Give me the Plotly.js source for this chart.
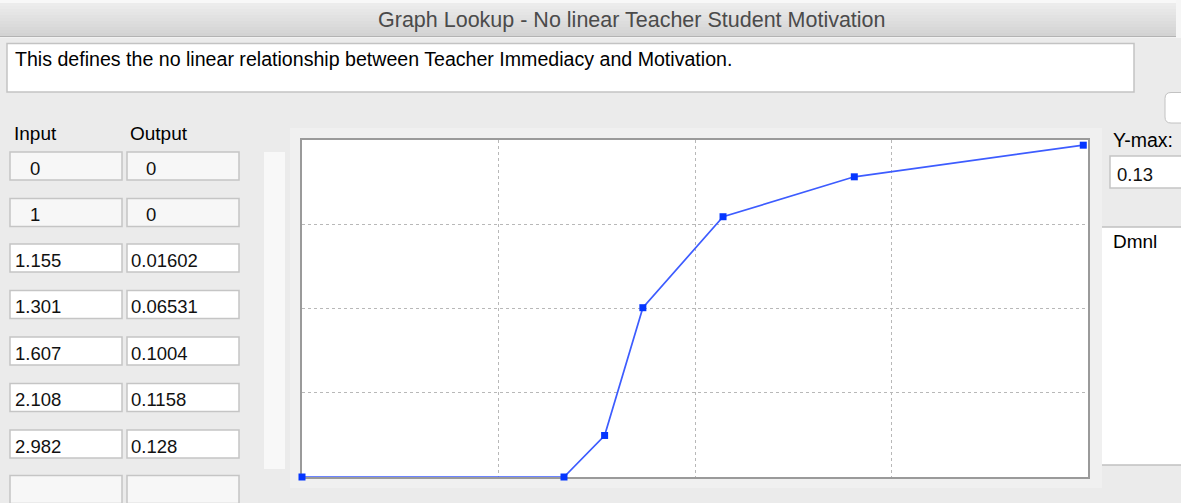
<!DOCTYPE html>
<html>
<head>
<meta charset="utf-8">
<script src="https://cdn.plot.ly/plotly-3.0.1.min.js"></script>
<style>
html,body{margin:0;padding:0;background:#ebebeb;overflow:hidden;}
#chart{width:1181px;height:503px;}
</style>
</head>
<body>
<div id="chart"></div>
<script>
// ---- data ----
const inputs  = [0, 1, 1.155, 1.301, 1.607, 2.108, 2.982];
const outputs = [0, 0, 0.01602, 0.06531, 0.1004, 0.1158, 0.128];
const yMax = 0.13;
const xMax = 3;
const dialogTitle = "Graph Lookup - No linear Teacher Student Motivation";
const description = "This defines the no linear relationship between Teacher Immediacy and Motivation.";
const colHeaders = ["Input", "Output"];
const unitLabel = "Dmnl";
const yMaxLabel = "Y-max:";

// ---- geometry helpers (pixel -> paper) ----
const W = 1181, H = 503;
const L = 302, R = 1088, T = 140, B = 477;
const px = X => (X - L) / (R - L);
const py = Y => (B - Y) / (B - T);
const FONT = "Liberation Sans, Arial, Helvetica, sans-serif";

const shapes = [];
const annotations = [];
function rect(x0, y0, x1, y1, fill, line, lw) {
  shapes.push({type: "rect", xref: "paper", yref: "paper", layer: "below",
    x0: px(x0), x1: px(x1), y0: py(y1), y1: py(y0),
    fillcolor: fill, line: {color: line || fill, width: line ? (lw || 1) : 0}});
}
function hline(x0, x1, y, color, lw) {
  shapes.push({type: "line", xref: "paper", yref: "paper", layer: "below",
    x0: px(x0), x1: px(x1), y0: py(y), y1: py(y), line: {color: color, width: lw || 1}});
}
function text(str, x, y, size, color, anchor) {
  annotations.push({text: str, xref: "paper", yref: "paper", x: px(x), y: py(y),
    xanchor: anchor || "left", yanchor: "middle", showarrow: false,
    font: {family: FONT, size: size, color: color || "#000"}});
}

// top white strip + title bar (stepped gradient)
rect(0, 0, W, 3, "#f8f8f8");
const bands = 11;
for (let i = 0; i < bands; i++) {
  const c = Math.round(236 - (236 - 211) * i / (bands - 1));
  const col = "rgb(" + c + "," + c + "," + c + ")";
  rect(0, 3 + i * 3, 1176, 3 + (i + 1) * 3 + 0.5, col);
}
rect(1176, 0, W, 38, "#f6f6f6");
hline(0, 1176, 36.5, "#b3b3b3", 1);
hline(0, 1176, 37.5, "#f2f2f2", 1);
text(dialogTitle, 632, 20, 21.5, "#4b4b4b", "center");

// description box
rect(7, 43.5, 1134, 92, "#ffffff", "#c3c3c3", 1.5);
text(description, 13, 59, 19.6, "#000");

// small rounded button at right edge (partially visible)
shapes.push({type: "path", xref: "paper", yref: "paper", layer: "below",
  path: "M " + px(1190) + " " + py(92.5) + " L " + px(1171) + " " + py(92.5) +
        " Q " + px(1165) + " " + py(92.5) + " " + px(1165) + " " + py(98.5) +
        " L " + px(1165) + " " + py(117) +
        " Q " + px(1165) + " " + py(123) + " " + px(1171) + " " + py(123) +
        " L " + px(1190) + " " + py(123) + " Z",
  fillcolor: "#ffffff", line: {color: "#c2c2c2", width: 1}});

// table headers
text(colHeaders[0], 12, 133, 19, "#000");
text(colHeaders[1], 128, 133, 19, "#000");

// table cells (one row per point + one empty row)
const rowTop = [152, 198.5, 244, 290.5, 337, 383.5, 430, 475.5];
for (let i = 0; i < rowTop.length; i++) {
  const y0 = rowTop[i], y1 = y0 + 28;
  const fill = (i < 2 || i >= inputs.length) ? "#f7f7f7" : "#ffffff";
  rect(10, y0, 122, y1, fill, "#c5c5c5", 1.5);
  rect(127, y0, 239, y1, fill, "#c5c5c5", 1.5);
  if (i < inputs.length) {
    const vi = inputs[i], vo = outputs[i];
    text(String(vi), Number.isInteger(vi) ? 28 : 13, y0 + 16, 18.5, "#111");
    text(String(vo), Number.isInteger(vo) ? 144 : 129, y0 + 16, 18.5, "#111");
  }
}

// left slim strip, chart frame panel and white plotting area
rect(264, 152, 285, 469, "#f8f8f8");
rect(290, 128, 1102, 488, "#f0f0f0");
rect(L, T, R, B, "#ffffff");

// right side: Y-max field and units panel
text(yMaxLabel, 1111, 140, 19.5, "#000");
rect(1110, 156, 1190, 188, "#ffffff", "#c5c5c5", 1.5);
text(String(yMax), 1115, 174, 18.5, "#111");
rect(1102, 227, 1190, 465, "#ffffff");
hline(1102, 1190, 227, "#c0c0c0", 1.5);
hline(1102, 1190, 465, "#c0c0c0", 1.5);
text(unitLabel, 1111, 241, 19, "#000");

const trace = {
  type: "scatter", mode: "lines+markers",
  x: inputs, y: outputs, cliponaxis: false,
  line: {color: "#3d5cff", width: 1.7},
  marker: {symbol: "square", size: 7, color: "#0536ff"},
  hoverinfo: "skip", showlegend: false
};

const layout = {
  width: W, height: H,
  margin: {l: L, r: W - R, t: T, b: H - B, pad: 0},
  paper_bgcolor: "#ebebeb", plot_bgcolor: "rgba(0,0,0,0)",
  showlegend: false,
  xaxis: {range: [0, xMax], tick0: 0, dtick: xMax / 4, showticklabels: false, ticks: "",
    showgrid: true, gridcolor: "#b8b8b8", gridwidth: 1, griddash: "3px,3px",
    zeroline: false, showline: true, mirror: true, linecolor: "#9a9a9a", linewidth: 2,
    layer: "below traces", fixedrange: true},
  yaxis: {range: [0, yMax], tick0: 0, dtick: yMax / 4, showticklabels: false, ticks: "",
    showgrid: true, gridcolor: "#b8b8b8", gridwidth: 1, griddash: "3px,3px",
    zeroline: false, showline: true, mirror: true, linecolor: "#9a9a9a", linewidth: 2,
    layer: "below traces", fixedrange: true},
  shapes: shapes,
  annotations: annotations
};

Plotly.newPlot("chart", [trace], layout, {displayModeBar: false, staticPlot: true});
</script>
</body>
</html>
